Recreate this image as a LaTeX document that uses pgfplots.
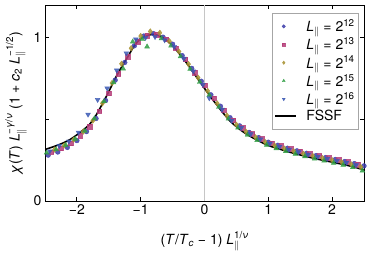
\documentclass[border=0pt]{standalone}
\usepackage{fontspec}
\setmainfont{TeX Gyre Heros}
\usepackage{amsmath}
\usepackage{pgfplots}
\pgfplotsset{compat=1.18}
\definecolor{cA}{HTML}{3C3CAA}
\definecolor{cB}{HTML}{B43C78}
\definecolor{cC}{HTML}{A89232}
\definecolor{cD}{HTML}{32A046}
\definecolor{cE}{HTML}{3C5AB4}
\newcommand{\Lp}{\textit{L}_{\|}}
\begin{document}
\begin{tikzpicture}
\begin{axis}[
  scale only axis, width=319pt, height=196pt,
  xmin=-2.5, xmax=2.5, ymin=0, ymax=1.2,
  xtick={-2,-1,0,1,2}, xticklabels={−2,−1,0,1,2},
  ytick={0,0.5,1}, yticklabels={0,,1},
  tick align=inside, major tick length=4pt,
  axis line style={line width=0.9pt}, every tick/.style={line width=0.9pt, black},
  tick label style={font=\fontsize{14}{16}\selectfont},
  every axis y label/.style={at={([xshift=-29pt]axis description cs:0,0.5)}, rotate=90, anchor=center, font=\fontsize{14}{16}\selectfont},
  every axis x label/.style={at={([yshift=-40pt]axis description cs:0.5,0)}, anchor=center, font=\fontsize{14}{16}\selectfont},
  xlabel={(\textit{T}/\textit{T}$_{\textit{c}}$ − 1) $\Lp^{\text{1/}\textit{ν}}$},
  ylabel={\textit{χ}(\textit{T}) $\Lp^{\text{−}\textit{γ}\text{/}\textit{ν}}$ (1 + \textit{c}$_{\text{2}}$ $\Lp^{\text{−1/2}}$)},
  legend style={at={(0.984,0.96)}, anchor=north east, draw=gray!70,
    font=\fontsize{14}{16}\selectfont, row sep=0.5pt, inner xsep=2pt, inner ysep=4.5pt},
  legend cell align=left,
  legend image code/.code={\path[draw=none] (0pt,0pt) -- (29pt,0pt); \draw[mark size=1.7pt] plot coordinates {(8.5pt,0pt)};},
]
\coordinate (SW) at (rel axis cs:0,0);
\coordinate (NE) at (rel axis cs:1,1);
\addplot[gray!45, line width=0.8pt, forget plot] coordinates {(0,0) (0,1.2)};
\addplot[only marks, mark=*, color=cA, mark size=2.4pt, opacity=0.85] coordinates {
(-2.45,0.281) (-2.30,0.300) (-2.15,0.328) (-2.00,0.370) (-1.85,0.425) (-1.70,0.505) (-1.55,0.615) (-1.40,0.740) (-1.25,0.848) (-1.10,0.950) (-0.95,1.010) (-0.80,1.025) (-0.65,1.003) (-0.50,0.960) (-0.35,0.890) (-0.20,0.812) (-0.05,0.733) (0.10,0.650) (0.25,0.580) (0.40,0.510) (0.55,0.460) (0.70,0.420) (0.85,0.388) (1.00,0.360) (1.15,0.341) (1.30,0.323) (1.45,0.307) (1.60,0.292) (1.75,0.278) (1.90,0.266) (2.05,0.254) (2.20,0.242) (2.35,0.229) (2.50,0.215)};
\addlegendentry{$\Lp$ = 2$^{\text{12}}$}
\addplot[only marks, mark=square*, color=cB, mark size=2.3pt, opacity=0.85] coordinates {
(-2.40,0.300) (-2.25,0.323) (-2.10,0.353) (-1.95,0.400) (-1.80,0.455) (-1.65,0.550) (-1.50,0.660) (-1.35,0.780) (-1.20,0.885) (-1.05,0.975) (-0.90,1.013) (-0.75,1.020) (-0.60,0.990) (-0.45,0.936) (-0.30,0.867) (-0.15,0.785) (0.00,0.710) (0.15,0.630) (0.30,0.557) (0.45,0.494) (0.60,0.447) (0.75,0.411) (0.90,0.380) (1.05,0.355) (1.20,0.337) (1.35,0.319) (1.50,0.304) (1.65,0.289) (1.80,0.276) (1.95,0.264) (2.10,0.252) (2.25,0.239) (2.40,0.224)};
\addlegendentry{$\Lp$ = 2$^{\text{13}}$}
\addplot[only marks, mark=diamond*, color=cC, mark size=2.8pt, opacity=0.85] coordinates {
(-2.35,0.315) (-2.20,0.340) (-2.05,0.376) (-1.90,0.425) (-1.75,0.492) (-1.60,0.598) (-1.45,0.722) (-1.30,0.840) (-1.15,0.935) (-1.00,1.010) (-0.85,1.038) (-0.70,1.030) (-0.55,0.978) (-0.40,0.915) (-0.25,0.838) (-0.10,0.755) (0.05,0.674) (0.20,0.597) (0.35,0.524) (0.50,0.467) (0.65,0.424) (0.80,0.390) (0.95,0.361) (1.10,0.339) (1.25,0.321) (1.40,0.304) (1.55,0.289) (1.70,0.275) (1.85,0.262) (2.00,0.250) (2.15,0.238) (2.30,0.224) (2.45,0.208)};
\addlegendentry{$\Lp$ = 2$^{\text{14}}$}
\addplot[only marks, mark=triangle*, color=cD, mark size=2.8pt, opacity=0.85] coordinates {
(-2.475,0.295) (-2.325,0.315) (-2.175,0.342) (-2.025,0.380) (-1.875,0.428) (-1.725,0.505) (-1.575,0.610) (-1.425,0.725) (-1.275,0.810) (-1.125,0.975) (-0.975,0.990) (-0.900,0.945) (-0.675,0.995) (-0.525,0.950) (-0.375,0.885) (-0.225,0.808) (-0.075,0.728) (0.075,0.648) (0.225,0.575) (0.375,0.503) (0.525,0.448) (0.675,0.405) (0.825,0.372) (0.975,0.343) (1.125,0.322) (1.275,0.304) (1.425,0.288) (1.575,0.273) (1.725,0.259) (1.875,0.246) (2.025,0.233) (2.175,0.221) (2.325,0.206) (2.475,0.185)};
\addlegendentry{$\Lp$ = 2$^{\text{15}}$}
\addplot[only marks, mark=triangle*, mark options={rotate=180}, color=cE, mark size=2.8pt, opacity=0.85] coordinates {
(-2.425,0.305) (-2.275,0.338) (-2.125,0.365) (-1.975,0.420) (-1.825,0.530) (-1.675,0.620) (-1.525,0.690) (-1.375,0.800) (-1.225,0.905) (-1.075,0.990) (-0.925,1.000) (-0.775,1.005) (-0.625,0.985) (-0.475,0.945) (-0.325,0.872) (-0.175,0.795) (-0.025,0.712) (0.075,0.630) (0.275,0.560) (0.425,0.492) (0.575,0.448) (0.725,0.410) (0.875,0.378) (1.025,0.352) (1.175,0.333) (1.325,0.315) (1.475,0.300) (1.625,0.285) (1.775,0.271) (1.925,0.259) (2.075,0.247) (2.225,0.235) (2.375,0.220)};
\addlegendentry{$\Lp$ = 2$^{\text{16}}$}
\addplot[black, line width=1.6pt, smooth, no marks,
  legend image code/.code={\draw[line width=1.8pt, black] (0pt,0pt) -- (21pt,0pt); \path[draw=none] (29pt,0pt);}] coordinates {
(-2.50,0.315) (-2.40,0.328) (-2.30,0.342) (-2.20,0.358) (-2.10,0.378) (-2.00,0.405) (-1.90,0.435) (-1.80,0.470) (-1.70,0.525) (-1.60,0.595) (-1.50,0.670) (-1.40,0.750) (-1.30,0.820) (-1.20,0.885) (-1.10,0.950) (-1.00,0.995) (-0.90,1.013) (-0.80,1.020) (-0.70,1.010) (-0.60,0.985) (-0.50,0.950) (-0.40,0.905) (-0.30,0.855) (-0.20,0.800) (-0.10,0.745) (0.00,0.690) (0.10,0.635) (0.20,0.585) (0.30,0.535) (0.40,0.490) (0.50,0.455) (0.60,0.425) (0.70,0.400) (0.80,0.378) (0.90,0.358) (1.00,0.340) (1.10,0.327) (1.20,0.315) (1.30,0.303) (1.40,0.292) (1.50,0.282) (1.60,0.272) (1.70,0.263) (1.80,0.254) (1.90,0.246) (2.00,0.238) (2.10,0.230) (2.20,0.222) (2.30,0.212) (2.40,0.202) (2.50,0.190)};
\addlegendentry{FSSF}
\end{axis}
\path ([xshift=-45pt,yshift=-54pt]SW) rectangle ([xshift=10pt,yshift=5pt]NE);
\end{tikzpicture}
\end{document}
